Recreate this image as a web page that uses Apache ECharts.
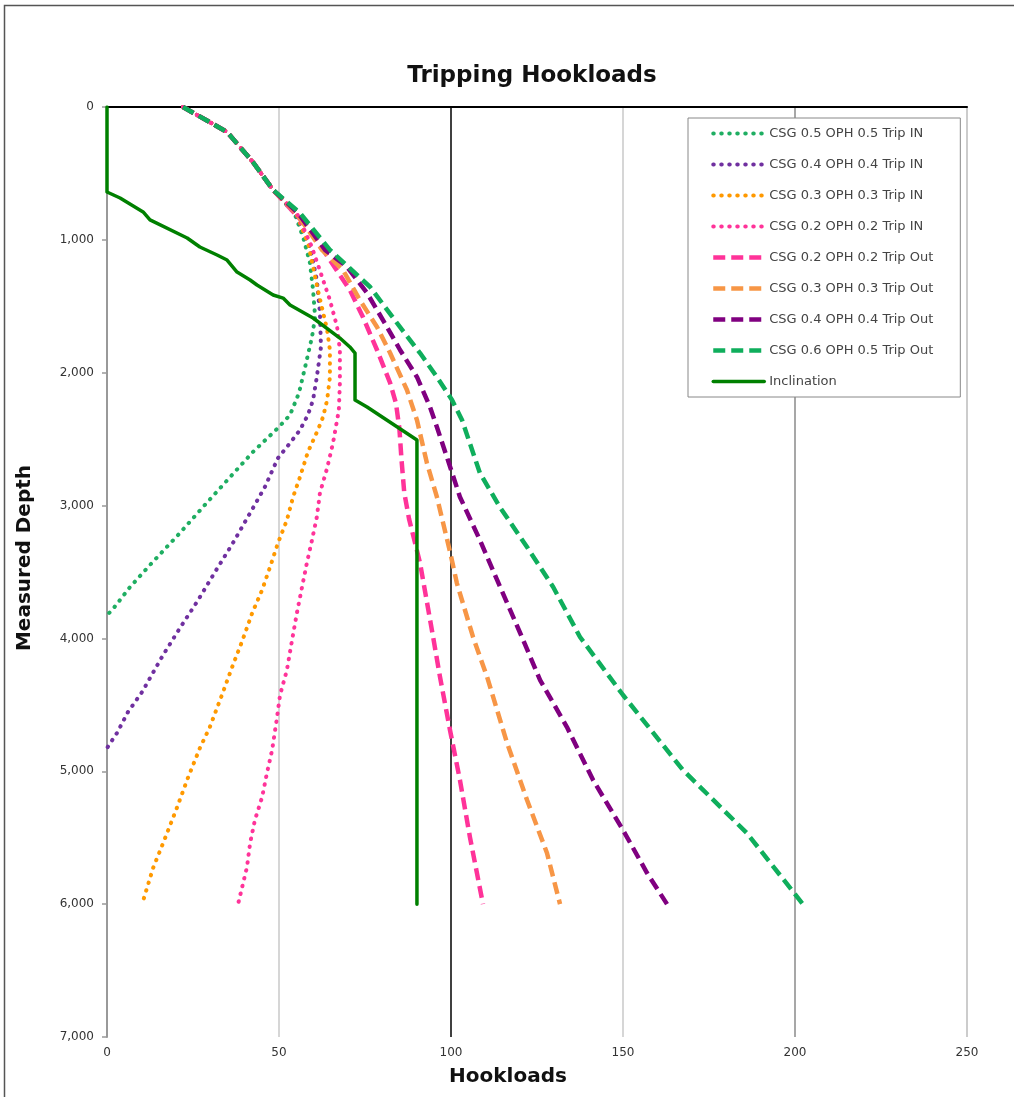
<!DOCTYPE html>
<html><head><meta charset="utf-8">
<script src="https://cdn.jsdelivr.net/npm/echarts@6/dist/echarts.min.js"></script>
<style>html,body{margin:0;padding:0;background:#fff}#c{width:1014px;height:1097px}</style>
</head><body><div id="c"></div>
<script>
// Data: [hookload, measured depth]
const xTicks = [0, 50, 100, 150, 200, 250];
const yTicks = [0, 1000, 2000, 3000, 4000, 5000, 6000, 7000];
const seriesNames = [
  'CSG 0.5 OPH 0.5 Trip IN', 'CSG 0.4 OPH 0.4 Trip IN', 'CSG 0.3 OPH 0.3 Trip IN', 'CSG 0.2 OPH 0.2 Trip IN',
  'CSG 0.2 OPH 0.2 Trip Out', 'CSG 0.3 OPH 0.3 Trip Out', 'CSG 0.4 OPH 0.4 Trip Out', 'CSG 0.6 OPH 0.5 Trip Out',
  'Inclination'
];
const tripIn05 = [[22.1,0],[34.9,188],[42.4,414],[48.3,625],[54.5,800],[57.0,978],[59.0,1174],[59.9,1377],[60.5,1581],[59.6,1731],[57.6,1957],[55.8,2153],[53.2,2318],[49.7,2416],[42.4,2597],[35.8,2785],[27.9,3011],[21.2,3206],[12.5,3447],[6.7,3613],[1.5,3786],[0,3824]];
const tripIn04 = [[22.1,0],[34.9,188],[42.4,414],[48.3,625],[54.8,800],[59.0,1054],[61.0,1302],[61.9,1551],[62.2,1806],[61.0,2032],[59.9,2205],[58.4,2318],[56.1,2431],[53.2,2529],[49.7,2642],[45.9,2860],[41.6,3056],[36.6,3282],[31.4,3500],[26.5,3711],[21.2,3922],[16.3,4125],[10.2,4403],[6.1,4554],[2.9,4712],[0,4825]];
const tripIn03 = [[22.1,0],[34.9,188],[42.4,414],[48.3,625],[55.0,800],[58.5,1030],[61.3,1377],[64.0,1678],[64.8,1829],[64.8,2032],[64.0,2205],[62.8,2333],[61.3,2431],[58.4,2597],[56.1,2785],[54.1,2935],[52.3,3109],[49.7,3282],[47.4,3462],[45.1,3635],[42.2,3809],[39.3,4020],[36.6,4200],[33.4,4426],[29.9,4667],[27.0,4825],[23.5,5051],[20.3,5276],[16.9,5502],[13.4,5728],[10.2,6000]];
const tripIn02 = [[22.1,0],[34.9,188],[42.4,414],[48.3,625],[55.2,800],[59.5,1050],[64.8,1453],[66.9,1656],[67.7,1829],[67.7,2077],[67.4,2281],[65.7,2529],[64.0,2717],[61.9,2905],[61.0,3086],[59.6,3259],[58.1,3432],[56.7,3613],[55.2,3809],[53.8,4012],[52.3,4238],[50.3,4426],[49.4,4599],[48.0,4840],[46.5,5013],[45.1,5194],[43.0,5367],[41.6,5540],[40.7,5720],[38.1,6000]];
const tripOut02 = [[22.1,0],[34.9,188],[42.4,414],[48.3,625],[54.5,798],[59.0,926],[64.8,1152],[70.6,1377],[74.4,1581],[78.5,1829],[82.3,2077],[84.0,2230],[85.0,2420],[85.6,2650],[86.4,2900],[87.8,3100],[91.0,3432],[94.8,3989],[96.8,4290],[99.7,4689],[102.6,5066],[105.5,5495],[109.3,6000]];
const tripOut03 = [[22.1,0],[34.9,188],[42.4,414],[48.3,625],[55.0,798],[62.5,1076],[68.6,1227],[73.5,1453],[78.5,1656],[82.3,1852],[87.2,2130],[90.1,2356],[93.0,2680],[95.9,2935],[99.8,3357],[101.7,3583],[106.4,3989],[110.5,4290],[116.3,4787],[122.1,5216],[127.9,5615],[131.7,6000]];
const tripOut04 = [[22.1,0],[34.9,188],[42.4,414],[48.3,625],[55.5,798],[63.4,1076],[69.8,1204],[75.6,1400],[81.4,1656],[85.2,1829],[90.1,2032],[93.9,2258],[95.9,2409],[98.8,2634],[102.6,2935],[108.4,3259],[113.4,3560],[120.1,3959],[125.9,4313],[133.7,4667],[141.3,5066],[150.0,5442],[157.0,5766],[162.8,6000]];
const tripOut05 = [[22.1,0],[34.9,188],[42.4,414],[48.3,625],[56.1,798],[64.8,1076],[76.5,1355],[84.3,1626],[91.0,1852],[95.9,2032],[100.3,2205],[103.2,2356],[108.4,2755],[114.2,3011],[122.1,3312],[129.7,3613],[137.5,3989],[150.0,4426],[167.4,4990],[186.0,5465],[202.3,6000]];
const inclination = [[0,0],[0,640],[3.8,685],[10.5,790],[12.5,850],[23.3,986],[27.0,1054],[32.0,1114],[34.9,1152],[37.8,1242],[41.6,1302],[43.6,1340],[48.3,1415],[51.2,1438],[53.2,1491],[59.9,1588],[67.7,1739],[70.6,1806],[72.1,1852],[72.1,2205],[75.6,2258],[90.1,2506],[90.1,6000]];

const seriesData = [tripIn05, tripIn04, tripIn03, tripIn02, tripOut02, tripOut03, tripOut04, tripOut05, inclination];
const seriesColors = ['#1fae62', '#7030a0', '#ff9900', '#ff3399', '#ff3399', '#f79646', '#800080', '#0fae5c', '#008000'];
const dotted = [0.5, 7.5];
const dashed = [12, 6];
const seriesStyles = [
  {type: dotted, width: 4, cap: 'round'}, {type: dotted, width: 4, cap: 'round'},
  {type: dotted, width: 4, cap: 'round'}, {type: dotted, width: 4, cap: 'round'},
  {type: dashed, width: 4.5, cap: 'butt'}, {type: dashed, width: 4.5, cap: 'butt'},
  {type: dashed, width: 4.5, cap: 'butt'}, {type: dashed, width: 4.5, cap: 'butt'},
  {type: 'solid', width: 3.5, cap: 'round'}
];
const gridColors = ['#999999', '#c8c8c8', '#000000', '#c8c8c8', '#8a8a8a', '#bbbbbb'];

const FONT = 'DejaVu Sans';
const chart = echarts.init(document.getElementById('c'), null, {renderer: 'canvas'});
chart.setOption({
  animation: false,
  backgroundColor: '#fff',
  textStyle: {fontFamily: FONT},
  title: {
    text: 'Tripping Hookloads', left: 527, top: 60, textAlign: 'center',
    textStyle: {fontFamily: FONT, fontSize: 23, fontWeight: 'bold', color: '#111'}
  },
  graphic: [{
    type: 'rect', z: -10, silent: true,
    shape: {x: 4.5, y: 5.5, width: 1200, height: 1200},
    style: {fill: 'none', stroke: '#555', lineWidth: 1.5}
  }],
  grid: {left: 107, top: 107, width: 860, height: 930, containLabel: false},
  legend: {
    data: seriesNames.map((n, i) => ({
      name: n,
      itemStyle: {opacity: 0},
      lineStyle: {color: seriesColors[i], width: seriesStyles[i].width, type: seriesStyles[i].type, cap: seriesStyles[i].cap}
    })),
    orient: 'vertical', left: 688, top: 118,
    padding: [9, 27, 9, 23], itemWidth: 51, itemHeight: 14, itemGap: 18,
    borderColor: '#888', borderWidth: 1, backgroundColor: '#fff',
    textStyle: {fontFamily: FONT, fontSize: 13, color: '#444'}
  },
  xAxis: [{
    type: 'value', position: 'bottom', min: xTicks[0], max: xTicks[xTicks.length - 1], interval: 50,
    name: 'Hookloads', nameLocation: 'middle', nameGap: 30,
    nameTextStyle: {fontFamily: FONT, fontSize: 20, fontWeight: 'bold', color: '#111', padding: [0, 58, 0, 0]},
    axisLine: {show: true, lineStyle: {color: '#bbbbbb', width: 1.5}},
    axisTick: {show: false},
    axisLabel: {margin: 10, fontSize: 12, color: '#333', fontFamily: FONT},
    splitLine: {show: true, lineStyle: {color: gridColors, width: 1.5}}
  }, {
    type: 'value', position: 'top', min: xTicks[0], max: xTicks[xTicks.length - 1], interval: 50,
    axisLine: {show: true, onZero: false, lineStyle: {color: '#000', width: 2}},
    axisTick: {show: false}, axisLabel: {show: false}, splitLine: {show: false}
  }],
  yAxis: {
    type: 'value', inverse: true, min: yTicks[0], max: yTicks[yTicks.length - 1], interval: 1000,
    name: 'Measured Depth', nameLocation: 'middle', nameGap: 72, nameRotate: 90,
    nameTextStyle: {fontFamily: FONT, fontSize: 20, fontWeight: 'bold', color: '#111', padding: [0, 0, 0, 28]},
    axisLine: {show: true, lineStyle: {color: '#999', width: 2}},
    axisTick: {show: true, inside: false, length: 5, lineStyle: {color: '#999', width: 1.5}},
    axisLabel: {margin: 13, fontSize: 12, color: '#333', fontFamily: FONT,
      formatter: v => v.toLocaleString('en-US')},
    splitLine: {show: false}
  },
  series: seriesData.map((d, i) => ({
    name: seriesNames[i], type: 'line', data: d, symbol: 'none', xAxisIndex: 0,
    lineStyle: {color: seriesColors[i], width: seriesStyles[i].width, type: seriesStyles[i].type, cap: seriesStyles[i].cap, join: 'round'},
    itemStyle: {color: seriesColors[i]},
    z: 2 + i
  }))
});
</script></body></html>
